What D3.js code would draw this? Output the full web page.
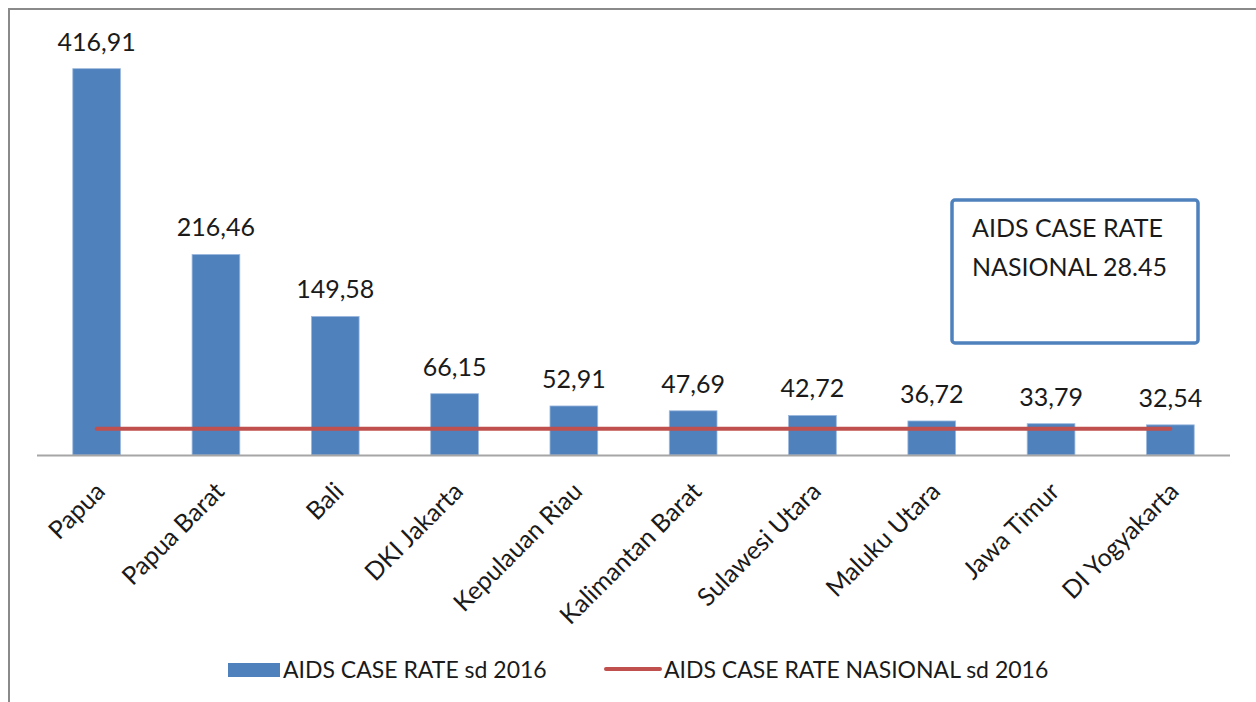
<!DOCTYPE html>
<html>
<head>
<meta charset="utf-8">
<script src="https://cdn.jsdelivr.net/npm/d3@7"></script>
<style>
    html, body { margin: 0; padding: 0; background: #fff; overflow: hidden; }
    svg { display: block; font-family: Lato, "Open Sans", sans-serif; }
</style>
</head>
<body>
<svg id="chart" width="1256" height="702"></svg>
<script>
    //Data
    var provinces = ["Papua", "Papua Barat", "Bali", "DKI Jakarta", "Kepulauan Riau",
        "Kalimantan Barat", "Sulawesi Utara", "Maluku Utara", "Jawa Timur", "DI Yogyakarta"];
    var caseRates = [416.91, 216.46, 149.58, 66.15, 52.91, 47.69, 42.72, 36.72, 33.79, 32.54];
    var nationalRate = 28.45;
    var legendLabels = ["AIDS CASE RATE sd 2016", "AIDS CASE RATE NASIONAL sd 2016"];
    var boxLines = ["AIDS CASE RATE", "NASIONAL 28.45"];

    (function () {
        "use strict";

        var barColour = "#4F81BD";
        var lineColour = "#C0504D";
        var textColour = "#1a1a1a";

        var svg = d3.select("#chart");

        //Outer chart frame (runs off the right and bottom of the picture)
        svg.append("rect")
            .attr("x", 9).attr("y", 9)
            .attr("width", 1300).attr("height", 760)
            .attr("fill", "none")
            .attr("stroke", "#8a8a8a")
            .attr("stroke-width", 2);

        var x = d3.scaleBand()
            .domain(provinces)
            .range([37, 1230])
            .paddingInner(0.6)
            .paddingOuter(0.3);

        var y = d3.scaleLinear()
            .domain([0, 450])
            .range([455, 38]);

        var fmt = function (v) { return d3.format(".2f")(v).replace(".", ","); };

        //Bars
        svg.append("g").selectAll("rect")
            .data(caseRates)
            .enter().append("rect")
            .attr("x", function (d, i) { return x(provinces[i]); })
            .attr("y", function (d) { return y(d); })
            .attr("width", x.bandwidth())
            .attr("height", function (d) { return y(0) - y(d); })
            .attr("fill", barColour)
            .attr("stroke", "#9DB9DE")
            .attr("stroke-width", 0.8);

        //Value labels
        svg.append("g").selectAll("text")
            .data(caseRates)
            .enter().append("text")
            .attr("x", function (d, i) { return x(provinces[i]) + x.bandwidth() / 2; })
            .attr("y", function (d) { return y(d) - 18; })
            .attr("text-anchor", "middle")
            .attr("fill", textColour)
            .style("font-size", "25px")
            .text(fmt);

        //Category axis
        var xAxis = svg.append("g")
            .attr("transform", "translate(0," + y(0) + ")")
            .call(d3.axisBottom(x).tickSize(0).tickPadding(0));
        xAxis.select(".domain")
            .attr("d", "M" + x.range()[0] + ",0.5H" + x.range()[1])
            .attr("stroke", "#a6a6a6")
            .attr("stroke-width", 2);
        xAxis.selectAll("text")
            .attr("fill", textColour)
            .style("font-size", "25px")
            .style("font-family", "Lato, 'Open Sans', sans-serif")
            .attr("text-anchor", "end")
            .attr("dy", null)
            .attr("y", 0)
            .attr("transform", "translate(10,38) rotate(-45)");

        //National rate line
        var line = d3.line()
            .x(function (d) { return x(d) + x.bandwidth() / 2; })
            .y(function () { return y(nationalRate); });
        svg.append("path")
            .datum([provinces[0], provinces[provinces.length - 1]])
            .attr("d", line)
            .attr("fill", "none")
            .attr("stroke", lineColour)
            .attr("stroke-width", 4)
            .attr("stroke-linecap", "round");

        //Annotation box
        var box = svg.append("g").attr("transform", "translate(952,200)");
        box.append("rect")
            .attr("width", 246).attr("height", 143)
            .attr("rx", 3)
            .attr("fill", "#fff")
            .attr("stroke", barColour)
            .attr("stroke-width", 3.5);
        box.selectAll("text")
            .data(boxLines)
            .enter().append("text")
            .attr("x", 20)
            .attr("y", function (d, i) { return 37 + i * 39; })
            .attr("fill", textColour)
            .style("font-size", "25px")
            .text(function (d) { return d; });

        //Legend
        var legend = svg.append("g");
        legend.append("rect")
            .attr("x", 228).attr("y", 663)
            .attr("width", 52).attr("height", 14)
            .attr("fill", barColour);
        legend.append("text")
            .attr("x", 283).attr("y", 678)
            .attr("fill", textColour)
            .style("font-size", "23px")
            .text(legendLabels[0]);
        legend.append("line")
            .attr("x1", 606).attr("x2", 660)
            .attr("y1", 669).attr("y2", 669)
            .attr("stroke", lineColour)
            .attr("stroke-width", 4)
            .attr("stroke-linecap", "round");
        legend.append("text")
            .attr("x", 664).attr("y", 678)
            .attr("fill", textColour)
            .style("font-size", "23px")
            .text(legendLabels[1]);
    })();
</script>
</body>
</html>
